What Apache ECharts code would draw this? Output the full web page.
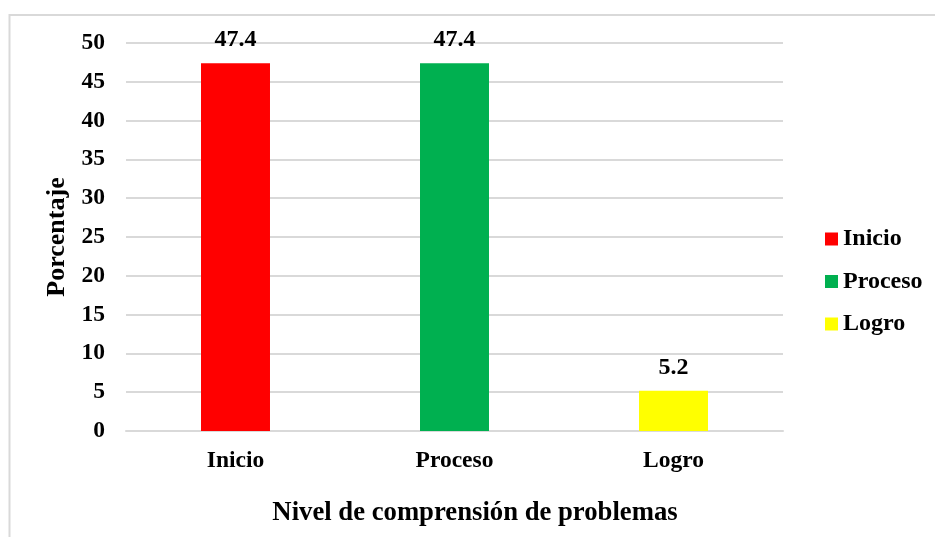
<!DOCTYPE html>
<html>
<head>
<meta charset="utf-8">
<script src="https://cdn.jsdelivr.net/npm/echarts@6/dist/echarts.min.js"></script>
<style>
html,body{margin:0;padding:0;background:#fff;}
#chart{width:935px;height:537px;}
</style>
</head>
<body>
<div id="chart"></div>
<script>
const categories = ['Inicio', 'Proceso', 'Logro'];
const values = [47.4, 47.4, 5.2];
const colors = ['#FF0000', '#00B050', '#FFFF00'];
const yTicks = { min: 0, max: 50, interval: 5 };
const xAxisName = 'Nivel de comprensión de problemas';
const yAxisName = 'Porcentaje';

const FONT = '"Liberation Serif", "Times New Roman", serif';

const series = categories.map((c, i) => ({
  name: c,
  type: 'bar',
  stack: 'total',
  barWidth: '31.5%',
  itemStyle: { color: colors[i] },
  data: categories.map((_, j) => (j === i ? values[i] : '-')),
  label: {
    show: true,
    position: 'top',
    distance: 11,
    color: '#000',
    fontFamily: FONT,
    fontWeight: 'bold',
    fontSize: 24,
    formatter: p => p.value.toFixed(1)
  }
}));

const chart = echarts.init(document.getElementById('chart'), null, { renderer: 'canvas' });
chart.setOption({
  animation: false,
  backgroundColor: '#fff',
  textStyle: { fontFamily: FONT },
  graphic: [{
    type: 'rect',
    silent: true,
    z: -10,
    shape: { x: 9.5, y: 15, width: 1000, height: 600 },
    style: { fill: 'none', stroke: '#d9d9d9', lineWidth: 2 }
  }],
  grid: { left: 126, right: 152, top: 43, bottom: 106, containLabel: false },
  legend: {
    orient: 'vertical',
    left: 820,
    top: 222,
    itemWidth: 13,
    itemHeight: 13,
    itemGap: 18.5,
    icon: 'rect',
    textStyle: { fontFamily: FONT, fontWeight: 'bold', fontSize: 24, color: '#000' },
    data: categories
  },
  xAxis: {
    type: 'category',
    data: categories,
    name: xAxisName,
    nameLocation: 'middle',
    nameGap: 69,
    nameTextStyle: { fontFamily: FONT, fontWeight: 'bold', fontSize: 26.7, color: '#000', padding: [0, 0, 0, 41] },
    axisLine: { show: true, lineStyle: { color: '#d9d9d9', width: 2 } },
    axisTick: { show: false },
    axisLabel: { fontFamily: FONT, fontWeight: 'bold', fontSize: 23.5, color: '#000', margin: 18 }
  },
  yAxis: {
    type: 'value',
    min: yTicks.min,
    max: yTicks.max,
    interval: yTicks.interval,
    name: yAxisName,
    nameLocation: 'middle',
    nameGap: 53,
    nameTextStyle: { fontFamily: FONT, fontWeight: 'bold', fontSize: 26, color: '#000' },
    axisLine: { show: false },
    axisTick: { show: false },
    splitLine: { lineStyle: { color: '#d9d9d9', width: 2 } },
    axisLabel: { fontFamily: FONT, fontWeight: 'bold', fontSize: 23.5, color: '#000', margin: 21 }
  },
  series: series
});
</script>
</body>
</html>
